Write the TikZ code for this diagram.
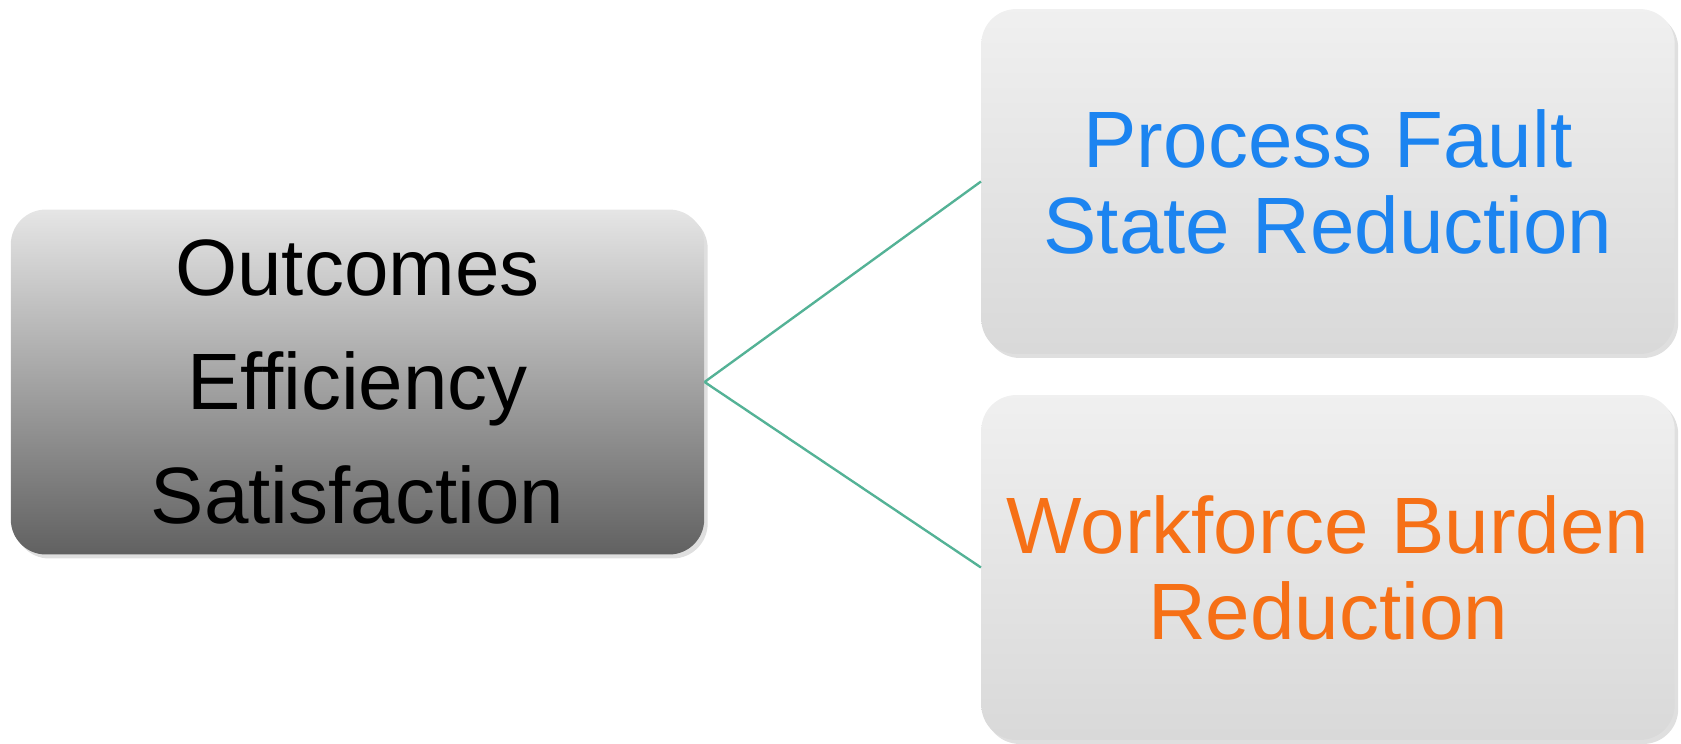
\documentclass[tikz,border=0pt]{standalone}
\usepackage{fontspec}
\setmainfont{Liberation Sans}
\usetikzlibrary{shadows}
\definecolor{linkgreen}{RGB}{84,178,150}
\definecolor{txtblue}{RGB}{28,132,240}
\definecolor{txtorange}{RGB}{246,112,22}
\tikzset{
  boxbase/.style={rounded corners=0.7cm, minimum width=13.87cm, minimum height=6.9cm,
    align=center, inner sep=0pt,
    drop shadow={opacity=0.25, shadow xshift=0.07cm, shadow yshift=-0.08cm}},
  darkbox/.style={boxbase, top color=black!10, bottom color=black!62,
    font=\fontsize{45.5}{65}\selectfont, text=black},
  lightbox/.style={boxbase, top color=black!6, bottom color=black!15,
    font=\fontsize{45.5}{49}\selectfont},
  link/.style={draw=linkgreen, line width=1.35pt}
}
\begin{document}
\begin{tikzpicture}[x=0.02cm, y=-0.02cm]
\useasboundingbox (0,0) rectangle (1681,744);
\node[darkbox] (L) at (357.5,382) {Outcomes\\Efficiency\\Satisfaction};
\node[lightbox, text=txtblue] (A) at (1328,181.5) {Process Fault\\State Reduction};
\node[lightbox, text=txtorange] (B) at (1328,567.5) {Workforce Burden\\Reduction};
\draw[link] (L.east) -- (A.west);
\draw[link] (L.east) -- (B.west);
\end{tikzpicture}
\end{document}
